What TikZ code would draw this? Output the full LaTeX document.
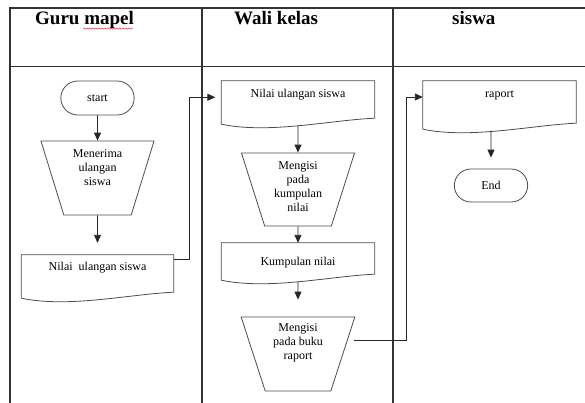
\documentclass[tikz,border=0pt]{standalone}
\usepackage{fontspec}
\setmainfont{Liberation Serif}
\usetikzlibrary{shapes.geometric,shapes.misc,arrows.meta,decorations.pathmorphing}

\begin{document}
\begin{tikzpicture}[x=1pt,y=-1pt,
		outl/.style={draw=black!70, line width=0.8pt},
		tabline/.style={draw=black!80, line width=1.1pt},
		flow/.style={draw=black!85, line width=0.9pt, -{Triangle[length=8pt,width=7pt]}},
		termbox/.style={outl, rounded rectangle, minimum width=80pt, minimum height=34pt, font=\fontsize{12}{14}\selectfont},
		trapbox/.style={outl, trapezium, trapezium angle=73.4, trapezium stretches=true, shape border rotate=180, minimum width=114pt, minimum height=74pt, inner sep=0pt, align=center, font=\fontsize{12}{14}\selectfont},
		docbox/.style={minimum width=153pt, inner sep=0pt, text height=8pt, font=\fontsize{12}{14}\selectfont},
		headtext/.style={anchor=base west, inner sep=0pt, font=\fontsize{19}{22}\selectfont\bfseries}
	]
		\useasboundingbox (0,0) rectangle (585,403);
		
		\draw [tabline] (10,403) -- (10,8) -- (585,8);
		\draw [tabline] (10,66.5) -- (585,66.5);
		\draw [tabline] (202,8) -- (202,403);
		\draw [tabline] (393,8) -- (393,403);
		
		\node [headtext] (hGuru) at (35,25) {Guru mapel};
		\node [headtext] (hWali) at (234,25) {Wali kelas};
		\node [headtext] (hSiswa) at (452,25) {siswa};
		\draw [red, decorate, decoration={snake, amplitude=0.7pt, segment length=3pt}] (83,28.5) -- (133,28.5);
		
		\node [termbox] (start) at (97.5,98) {start};
		\node [trapbox, text depth=20pt] (menerima) at (97.5,178) {Menerima\\ulangan\\siswa};
		\node [docbox, minimum width=152pt, minimum height=44.5pt, text depth=22.5pt] (guruDoc) at (97.5,277.25) {Nilai\ \ ulangan siswa};
		
		\node [docbox, minimum height=44.5pt, text depth=18.5pt] (waliDoc) at (298,103.25) {Nilai ulangan siswa};
		\node [trapbox, minimum height=73pt, text depth=6pt] (isiKumpul) at (298,189.5) {Mengisi\\pada\\kumpulan\\nilai};
		\node [docbox, minimum height=38.5pt, text depth=2.5pt] (kumpul) at (298,262.25) {Kumpulan nilai};
		\node [trapbox, text depth=25pt] (isiRaport) at (298,354) {Mengisi\\pada buku\\raport};
		
		\node [docbox, minimum height=49.5pt, text depth=23.5pt] (raportDoc) at (499.5,105.75) {raport};
		\node [termbox, minimum height=33pt] (finish) at (491,185.5) {End};
		
		\foreach \n in {guruDoc,waliDoc,kumpul,raportDoc}
			\draw [outl] ([yshift=1.5pt]\n.south west) -- (\n.north west) -- (\n.north east) -- ([yshift=7.5pt]\n.south east) .. controls ([xshift=-45pt,yshift=5.5pt]\n.south east) and ([xshift=48pt,yshift=-8.5pt]\n.south west) .. ([yshift=1.5pt]\n.south west);
		
		\draw [flow] (start) -- (menerima);
		\draw [flow, shorten >=12pt] (menerima) -- (guruDoc);
		\draw [flow, shorten >=6pt] ([yshift=-5pt]guruDoc.north east) -| ([xshift=-32pt,yshift=6pt]waliDoc.west) -- ([yshift=6pt]waliDoc.west);
		\draw [flow] (waliDoc.south) -- (isiKumpul);
		\draw [flow] (isiKumpul) -- (kumpul);
		\draw [flow, shorten >=17pt] (kumpul.south) -- (isiRaport);
		\draw [flow] ([shift={(56pt,14pt)}]isiRaport.center) -| ([xshift=-16pt,yshift=8.75pt]raportDoc.west) -- ([yshift=8.75pt]raportDoc.west);
		\draw [flow, shorten >=11pt] (finish.north |- raportDoc.south) -- (finish);
\end{tikzpicture}
\end{document}
